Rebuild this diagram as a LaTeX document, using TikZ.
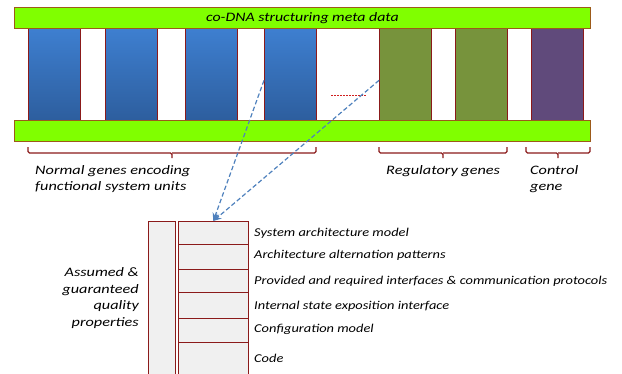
\documentclass[tikz,border=0pt]{standalone}
\usepackage{fontspec}
\setmainfont{Carlito}
\newfontfamily\lblfont[FakeStretch=1.2]{Carlito}
\newfontfamily\bigfont[FakeStretch=1.26]{Carlito}
\newfontfamily\topfont[FakeStretch=1.23]{Carlito}
\usetikzlibrary{arrows.meta,calc}
\definecolor{lime}{HTML}{80FF00}
\definecolor{baredge}{HTML}{9C5A1A}
\definecolor{darkred}{HTML}{8B1A1A}
\definecolor{bluetop}{HTML}{3E7FD0}
\definecolor{bluebot}{HTML}{2D5E9E}
\definecolor{olive}{HTML}{77933C}
\definecolor{purp}{HTML}{604A7B}
\definecolor{arrowblue}{HTML}{4F81BD}
\definecolor{boxgray}{HTML}{F0F0F0}
\definecolor{dashred}{HTML}{D02020}
\tikzset{
  bar/.style={draw=baredge, line width=0.8pt, fill=lime, minimum width=576pt, minimum height=21pt, inner sep=0pt, anchor=north west},
  gene/.style={draw=darkred, line width=0.7pt, minimum width=52pt, minimum height=92pt, inner sep=0pt, anchor=north west},
  bluegene/.style={gene, top color=bluetop, bottom color=bluebot},
  cell/.style={draw=darkred, line width=0.6pt, fill=boxgray, inner sep=0pt, anchor=north west},
  lbl/.style={font=\lblfont\itshape\fontsize{12}{14}\selectfont, anchor=west, inner sep=0pt},
  biglbl/.style={font=\bigfont\itshape\fontsize{12.9}{16}\selectfont, inner sep=0pt},
  brc/.style={draw=darkred, line width=1.4pt, rounded corners=1.5pt},
  link/.style={draw=arrowblue, line width=1.2pt, dash pattern=on 4.5pt off 2.5pt},
}
\begin{document}
\begin{tikzpicture}[x=1pt, y=-1pt]
\useasboundingbox (0,0) rectangle (622,373);
% genes
\node[bluegene] (b1) at (28,28) {};
\node[bluegene] (b2) at (105,28) {};
\node[bluegene] (b3) at (185,28) {};
\node[bluegene] (b4) at (264,28) {};
\node[gene, fill=olive] (g1) at (379,28) {};
\node[gene, fill=olive] (g2) at (455,28) {};
\node[gene, fill=purp] (p1) at (531,28) {};
% bars
\node[bar] (top) at (14,7) {};
\node[bar] (bot) at (14,120) {};
\node[font=\topfont\itshape\fontsize{12.9}{14}\selectfont, inner sep=0pt] (toptxt) at (top.center) {co-DNA structuring meta data};
% red dashed
\coordinate (rd1) at (331,95);
\coordinate (rd2) at (367,95);
\draw[dashred, line width=0.9pt, dash pattern=on 2pt off 1pt] (rd1) -- (rd2);
% braces
\coordinate (n1) at (28,147); \coordinate (n2) at (316,147);
\coordinate (r1b) at (379,147); \coordinate (r2b) at (507,147);
\coordinate (c1) at (526,147); \coordinate (c2) at (590,147);
\draw[brc] (n1) -- ++(0,6) -- ($(n1)!0.5!(n2)+(0,6)$) -- ++(0,5);
\draw[brc] (n2) -- ++(0,6) -- ($(n1)!0.5!(n2)+(0,6)$);
\draw[brc] (r1b) -- ++(0,6) -- ($(r1b)!0.5!(r2b)+(0,6)$) -- ++(0,5);
\draw[brc] (r2b) -- ++(0,6) -- ($(r1b)!0.5!(r2b)+(0,6)$);
\draw[brc] (c1) -- ++(0,6) -- ($(c1)!0.5!(c2)+(0,6)$) -- ++(0,5);
\draw[brc] (c2) -- ++(0,6) -- ($(c1)!0.5!(c2)+(0,6)$);
\node[biglbl, align=left, anchor=north west] (normal) at (35,165) {Normal genes encoding\\functional system units};
\node[biglbl, anchor=north west] (reg) at (386,165) {Regulatory genes};
\node[biglbl, align=left, anchor=north west] (ctrl) at (530,165) {Control\\gene};
% lower box
\node[cell, minimum width=27pt, minimum height=153pt] (side) at (148,221) {};
\node[cell, minimum width=70pt, minimum height=23pt] (s1) at (178,221) {};
\node[cell, minimum width=70pt, minimum height=25pt] (s2) at (178,244) {};
\node[cell, minimum width=70pt, minimum height=23pt] (s3) at (178,269) {};
\node[cell, minimum width=70pt, minimum height=26pt] (s4) at (178,292) {};
\node[cell, minimum width=70pt, minimum height=24pt] (s5) at (178,318) {};
\node[cell, minimum width=70pt, minimum height=32pt] (s6) at (178,342) {};
\node[lbl] (l1) at (254,233) {System architecture model};
\node[lbl] (l2) at (254,255) {Architecture alternation patterns};
\node[lbl] (l3) at (254,281) {Provided and required interfaces \& communication protocols};
\node[lbl] (l4) at (254,306) {Internal state exposition interface};
\node[lbl] (l5) at (254,329) {Configuration model};
\node[lbl] (l6) at (254,358) {Code};
\node[biglbl, align=right, anchor=east, font=\bigfont\itshape\fontsize{12.9}{16.7}\selectfont] (qual) at (139,298) {Assumed \&\\guaranteed\\quality\\properties};
% arrows
\coordinate (a1) at ($(b4.west)+(0,6)$);
\coordinate (a2) at ($(g1.west)+(0,6)$);
\draw[link, -{Stealth[length=8pt,width=7pt]}] (a1) -- (s1.north);
\draw[link, -{Stealth[length=8pt,width=7pt]}] (a2) -- (s1.north);
\end{tikzpicture}
\end{document}
